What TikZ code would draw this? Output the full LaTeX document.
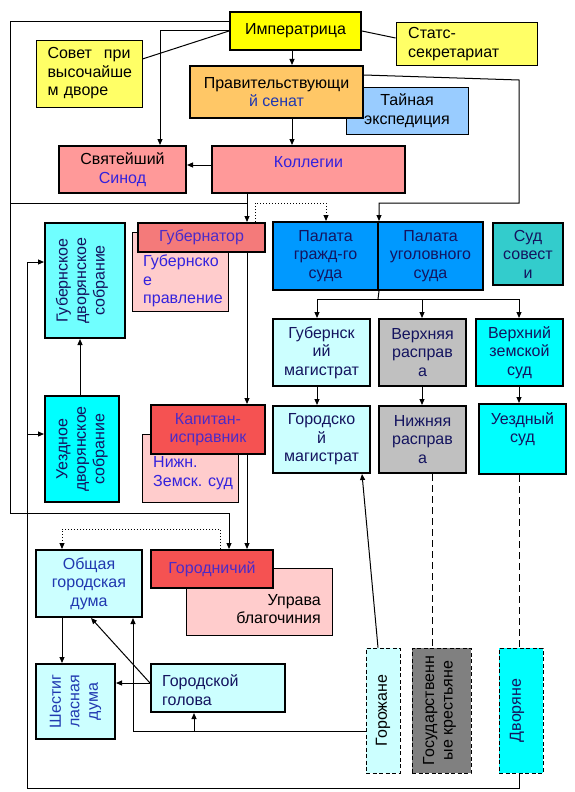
\documentclass[tikz,border=0pt]{standalone}
\usepackage{fontspec}
\setmainfont{Liberation Sans}
\usetikzlibrary{arrows.meta}
\definecolor{cImp}{HTML}{FFFF00}
\definecolor{cLY}{HTML}{FFFF66}
\definecolor{cOr}{HTML}{FFC766}
\definecolor{cLB}{HTML}{99CCFF}
\definecolor{cPk}{HTML}{FF9999}
\definecolor{cRd}{HTML}{F47A7A}
\definecolor{cRd2}{HTML}{F55252}
\definecolor{cLP}{HTML}{FFCCCC}
\definecolor{cCyL}{HTML}{70FFFF}
\definecolor{cCy}{HTML}{00FFFF}
\definecolor{cBl}{HTML}{0099FF}
\definecolor{cTeal}{HTML}{33CCCC}
\definecolor{cLC}{HTML}{CCFFFF}
\definecolor{cGr}{HTML}{C0C0C0}
\definecolor{cDG}{HTML}{808080}
\definecolor{tNavy}{HTML}{14145F}
\definecolor{tBlue}{HTML}{3322DD}
\definecolor{tPur}{HTML}{4B2BC8}
\definecolor{tMid}{HTML}{2038B0}
\newcommand\bx[7]{\node[#6, minimum width={(#4-#2)*1pt}, minimum height={(#5-#3)*1pt}] (#1) at ({(#2+#4)/2},{(#3+#5)/2}) {#7};}
\begin{document}
\begin{tikzpicture}[x=1pt,y=-1pt,
  every node/.style={font=\fontsize{16}{18.5}\selectfont},
  box/.style={draw=black, inner sep=0pt, align=center, text=black},
  thk/.style={box, line width=2pt},
  thn/.style={box, line width=0.9pt},
  dsh/.style={box, line width=0.9pt, dash pattern=on 4pt off 2.5pt},
  txt/.style={inner sep=0pt, align=center},
  rot/.style={txt, rotate=90},
  conn/.style={line width=1pt, draw=black},
  arr/.style={conn, -{Triangle[length=6pt,width=5pt]}},
  dotl/.style={line width=1pt, dotted},
  dashl/.style={conn, dash pattern=on 7pt off 4pt}
]
\useasboundingbox[fill=white] (0,0) rectangle (575,792);

% --- top level
\bx{imp}{230}{12}{361}{50}{thk, fill=cImp}{Императрица}
\bx{stats}{396}{22}{537}{65}{thn, fill=cLY}{}
\node[txt, anchor=west, align=left] (stats-t) at (408,44) {Статс-\\секретариат};
\bx{sovet}{36}{40}{142}{107}{thn, fill=cLY, text width=83pt, align=left}{Совет\hfill при\\высочайше\\м дворе}
\bx{tain}{346}{87}{468}{134}{thn, fill=cLB}{Тайная\\экспедиция}
\bx{senat}{190}{66}{363}{118}{thk, fill=cOr}{Правительствующи\\\textcolor{tMid}{й сенат}}
\bx{sinod}{59}{146}{186}{193}{thk, fill=cPk}{Святейший\\\textcolor{tBlue}{Синод}}
\bx{koll}{212}{146}{405}{193}{thk, fill=cPk}{}
\node[txt, text=tBlue] (koll-t) at ([yshift=7.5pt]koll.center) {Коллегии};

% --- province
\bx{gubpr}{132}{232}{228}{311}{thn, fill=cLP}{}
\node[txt, anchor=west, align=left, text=tBlue] (gubpr-t) at (143,281) {Губернско\\е\\правление};
\bx{gub}{138}{223}{265}{252}{thk, fill=cRd, text=tPur}{Губернатор}
\bx{gubdv}{45}{223}{125}{338}{thk, fill=cCyL}{}
\node[rot, text=tNavy] (gubdv-t) at ([xshift=-3pt]gubdv.center) {Губернское\\дворянское\\собрание};
\bx{uezdv}{45}{396}{119}{502}{thk, fill=cCy}{}
\node[rot, text=tNavy] (uezdv-t) at (uezdv.center) {Уездное\\дворянское\\собрание};
\bx{nzs}{142}{434}{238}{502}{thn, fill=cLP}{}
\node[txt, anchor=west, align=left, text=tBlue] (nzs-t) at (153,473) {Нижн.\\Земск. суд};
\bx{kap}{151}{405}{265}{454}{thk, fill=cRd2, text=tPur}{Капитан-\\исправник}

% --- courts
\bx{palG}{273}{222}{378}{290}{thk, fill=cBl, text=tNavy}{Палата\\гражд-го\\суда}
\bx{palU}{378}{222}{483}{290}{thk, fill=cBl, text=tNavy}{Палата\\уголовного\\суда}
\bx{sovest}{493}{223}{563}{285}{box, line width=1.2pt, fill=cTeal, text=tNavy}{Суд\\совест\\и}
\bx{gmag}{273}{319}{370}{386}{thk, fill=cLC, text=tNavy}{Губернск\\ий\\магистрат}
\bx{vrasp}{379}{319}{466}{386}{thk, fill=cGr, text=tNavy}{Верхняя\\расправ\\а}
\bx{vzs}{476}{319}{563}{386}{thk, fill=cCy, text=tNavy}{Верхний\\земской\\суд}
\bx{gormag}{273}{406}{370}{473}{thk, fill=cLC, text=tNavy}{Городско\\й\\магистрат}
\bx{nrasp}{379}{406}{466}{473}{thk, fill=cGr, text=tNavy}{Нижняя\\расправ\\а}
\bx{usud}{479}{404}{566}{474}{thk, fill=cCy}{}
\node[txt, text=tNavy] (usud-t) at ([yshift=10pt]usud.center) {Уездный\\суд};

% --- town
\bx{uprava}{186}{568}{332}{635}{thn, fill=cLP}{}
\node[txt, anchor=east, align=right] (uprava-t) at (321,609) {Управа\\благочиния};
\bx{gorod}{151}{550}{273}{588}{thk, fill=cRd2, text=tPur}{Городничий}
\bx{obsh}{36}{550}{142}{617}{thk, fill=cLC, text=tMid}{Общая\\городская\\дума}
\bx{shest}{36}{664}{115}{739}{thk, fill=cLC}{}
\node[rot, text=tMid] (shest-t) at (shest.center) {Шестиг\\ласная\\дума};
\bx{golova}{151}{664}{285}{712}{thk, fill=cLC}{}
\node[txt, anchor=west, align=left, text=tNavy] (golova-t) at (162,690) {Городской\\голова};

% --- estates
\bx{gorozh}{366}{648}{400}{773}{dsh, fill=cLC}{}
\node[rot] (gorozh-t) at (gorozh.center) {Горожане};
\bx{gk}{412}{648}{471}{773}{dsh, fill=cDG}{}
\node[rot] (gk-t) at ([xshift=-2pt]gk.center) {Государственн\\ые крестьяне};
\bx{dvor}{499}{648}{543}{773}{dsh, fill=cCy}{}
\node[rot, text=tNavy] (dvor-t) at ([xshift=-4pt]dvor.center) {Дворяне};

% --- connectors
\draw[arr] (imp.west |- 0,22) -| (10,513) -| ([xshift=17pt]gorod.north);
\draw[arr] (imp.west) -| ([xshift=37.5pt]sinod.north);
\draw[conn] (sovet.east |- 0,59) -- (imp.west);
\draw[conn] (imp.east) -- (stats.west |- 0,38);
\draw[arr] (292,0 |- imp.south) -- (292,0 |- senat.north);
\draw[arr] (292,0 |- senat.south) -- (292,0 |- koll.north);
\draw[arr] (koll.west |- 0,165) -- (sinod.east |- 0,165);
\draw[arr] (senat.east |- 0,75) -- (519,80) -- (519,203) -| (palG.north east);
\draw[arr] (247,0 |- koll.south) -- (247,0 |- gub.north);
\draw[conn] (10,203) -- (247,203);
\draw[dotl, -{Triangle[length=6pt,width=5pt]}] (255,0 |- gub.north) -- (255,203) -| (326,0 |- palG.north);
\draw[arr] (247,0 |- gub.south) -- (247,0 |- kap.north);
\draw[arr] (247,0 |- kap.south) -- (247,0 |- gorod.north);
\draw[dotl, -{Triangle[length=6pt,width=5pt]}] (220,0 |- gorod.north) -- (220,529) -| (62,0 |- obsh.north);
\draw[arr] (519,0 |- dvor.south) -- (519,788) -| (27,262) -- (gubdv.west |- 0,262);
\draw[arr] (27,434) -- (uezdv.west |- 0,434);
\draw[arr] (80,0 |- uezdv.north) -- (80,0 |- gubdv.south);
\draw[conn] (palG.south east) -- (378,299);
\draw[conn] (317,299) -- (519,299);
\draw[arr] (317,299) -- (317,0 |- gmag.north);
\draw[arr] (422,299) -- (422,0 |- vrasp.north);
\draw[arr] (519,299) -- (519,0 |- vzs.north);
\draw[arr] (317,0 |- gmag.south) -- (317,0 |- gormag.north);
\draw[arr] (422,0 |- vrasp.south) -- (422,0 |- nrasp.north);
\draw[arr] (519,0 |- vzs.south) -- (519,0 |- usud.north);
\draw[dashl] (432,0 |- nrasp.south) -- (432,0 |- gk.north);
\draw[dashl] (519,0 |- usud.south) -- (519,0 |- dvor.north);
\draw[arr] (378,0 |- gorozh.north) -- (362,0 |- gormag.south);
\draw[arr] (gorozh.west |- 0,731) -- (133,731) -- (133,0 |- obsh.south);
\draw[arr] (194,731) -- (194,0 |- golova.south);
\draw[arr] (golova.west |- 0,683) -- (shest.east |- 0,683);
\draw[arr] (golova.west |- 0,683) -- (91,0 |- obsh.south);
\draw[arr] (62,0 |- obsh.south) -- (62,0 |- shest.north);
\end{tikzpicture}
\end{document}
